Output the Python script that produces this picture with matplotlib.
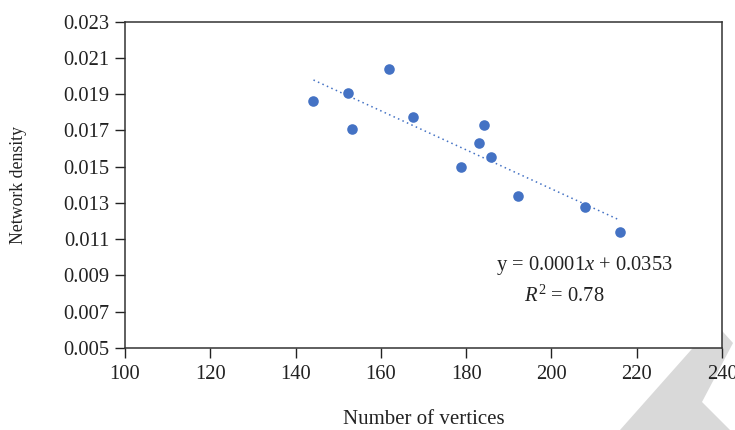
import numpy as np
import matplotlib
matplotlib.use("Agg")
import matplotlib.pyplot as plt
from matplotlib.patches import Polygon

# Data
vertices = [144.2, 152.4, 153.3, 162.0, 167.5, 178.9, 183.1, 184.1, 185.8, 192.1, 207.8, 216.1]
density = [0.01865, 0.01909, 0.01708, 0.02038, 0.01777, 0.01500, 0.01631, 0.01730,
           0.01554, 0.01337, 0.01279, 0.01141]
x_ticks = [100, 120, 140, 160, 180, 200, 220, 240]
y_ticks = [0.005, 0.007, 0.009, 0.011, 0.013, 0.015, 0.017, 0.019, 0.021, 0.023]
equation_text = r"y = 0.0001$x$ + 0.0353"
r2_text = r"$R^{2}$ = 0.78"

plt.rcParams['font.family'] = ['Liberation Serif', 'DejaVu Serif']
plt.rcParams['mathtext.fontset'] = 'custom'
plt.rcParams['mathtext.rm'] = 'Liberation Serif'
plt.rcParams['mathtext.it'] = 'Liberation Serif:italic'

blue = '#4472C4'
txt = '#222222'
fs = 14.8

fig = plt.figure(figsize=(7.35, 4.30), dpi=100)
ax = fig.add_axes([125 / 735, (430 - 348) / 430, (722 - 125) / 735, (348 - 21.7) / 430])

ax.scatter(vertices, density, s=58, color=blue, zorder=3, linewidths=0)

# linear trendline over the data range
coef = np.polyfit(vertices, density, 1)
xs = np.array([min(vertices), max(vertices)])
ax.plot(xs, np.polyval(coef, xs), linestyle=(0, (1, 2.2)), color=blue, linewidth=1.1, zorder=2)

ax.set_xlim(100, 240)
ax.set_ylim(0.005, 0.023)
ax.set_xticks(x_ticks)
ax.set_yticks(y_ticks)
ax.set_yticklabels([f"{v:.3f}" for v in y_ticks])
ax.tick_params(axis='both', direction='out', length=7, width=1, labelsize=fs, colors=txt)
ax.tick_params(axis='x', pad=5)
ax.tick_params(axis='y', pad=4)
for s in ax.spines.values():
    s.set_linewidth(1.1)
    s.set_color('#333333')

ax.set_xlabel("Number of vertices", fontsize=15, labelpad=19, color=txt)
ax.set_ylabel("Network density", fontsize=12.8, labelpad=26, color=txt)

ax.text(0.770, 0.254, equation_text, transform=ax.transAxes, ha='center', va='center',
        fontsize=fs, color=txt)
ax.text(0.736, 0.158, r2_text, transform=ax.transAxes, ha='center', va='center',
        fontsize=fs, color=txt)

# light watermark chevron at bottom right
pts = [(620, 430), (715, 323), (733, 343), (702, 402), (730, 430)]
pts = [(x / 735, 1 - y / 430) for x, y in pts]
fig.add_artist(Polygon(pts, closed=True, transform=fig.transFigure, facecolor='#d9d9d9',
                       edgecolor='none', zorder=0))

fig.savefig("out.png", dpi=100)
